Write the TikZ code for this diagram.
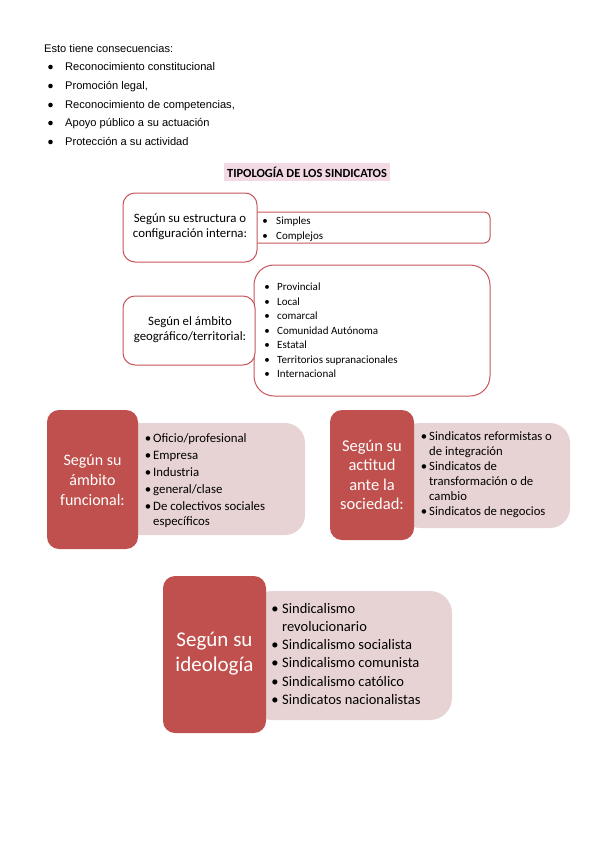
\documentclass[tikz,border=0pt]{standalone}
\usepackage{fontspec}
\setmainfont{Carlito}
\newfontfamily\arialf{Liberation Sans}
\definecolor{dred}{HTML}{C0504D}
\definecolor{lpink}{HTML}{E8D3D4}
\definecolor{hlpink}{HTML}{F2D9E4}
\definecolor{bord}{HTML}{C8555A}
\tikzset{
  body/.style={anchor=base west, inner sep=0pt, font=\arialf\fontsize{11.1}{13}\selectfont},
  dot/.style={circle, fill=black, inner sep=0pt, minimum size=4.6pt},
  lbox/.style={draw=bord, line width=1pt, fill=white, rounded corners=12pt},
  rbox/.style={draw=bord, line width=1pt, fill=white},
  ltxt/.style={align=center, font=\fontsize{12.8}{15}\selectfont, inner sep=0pt},
  itm/.style={anchor=base west, inner sep=0pt},
  bul/.style={anchor=base, inner sep=0pt},
  dbox/.style={fill=dred, rounded corners=12pt},
  pbox/.style={fill=lpink},
  wtxt/.style={align=center, text=white, inner sep=0pt},
}
\begin{document}
\begin{tikzpicture}[x=1pt,y=-1pt]
\useasboundingbox (0,0) rectangle (600,848);
% intro text
\node[body] (intro) at (44,53) {Esto tiene consecuencias:};
\foreach \y/\t [count=\i] in {71/{Reconocimiento constitucional},90/{Promoción legal,},109/{Reconocimiento de competencias,},127/{Apoyo público a su actuación},146/{Protección a su actividad}}{
  \node[dot] (d\i) at (50.5,\y-4) {};
  \node[body] (t\i) at (65,\y) {\t};
}
% title
\fill[hlpink] (224,163) rectangle (390,181);
\node[inner sep=0pt, font=\bfseries\fontsize{12.4}{14}\selectfont] (title) at (307,172.5) {TIPOLOGÍA DE LOS SINDICATOS};
% box 1
\draw[rbox, rounded corners=6pt] (250,212) rectangle (490,243);
\draw[lbox] (123,193) rectangle (257,262);
\node[ltxt] (b1) at (190,227) {Según su estructura o\\configuración interna:};
\begin{scope}[font=\fontsize{11}{13}\selectfont]
\foreach \y/\t [count=\i] in {224/{Simples},239.5/{Complejos}}{
  \node[bul] (s\i) at (265,\y) {\textbullet};
  \node[itm] (st\i) at (276,\y) {\t};
}
\end{scope}
% box 2
\draw[rbox, rounded corners=20pt] (254,265) rectangle (490,396);
\draw[lbox] (123,296) rectangle (255,365);
\node[ltxt] (b2) at (190,330) {Según el ámbito\\geográfico/territorial:};
\begin{scope}[font=\fontsize{11}{13}\selectfont]
\foreach \y/\t [count=\i] in {290.5/{Provincial},305/{Local},319.5/{comarcal},334/{Comunidad Autónoma},348.5/{Estatal},363/{Territorios supranacionales},377.5/{Internacional}}{
  \node[bul] (g\i) at (267,\y) {\textbullet};
  \node[itm] (gt\i) at (277,\y) {\t};
}
\end{scope}
% box 3
\fill[pbox, rounded corners=20pt] (120,423) rectangle (305,535);
\fill[dbox] (47,410) rectangle (138,549);
\node[wtxt, font=\fontsize{16}{20}\selectfont] (b3) at (92.5,480) {Según su\\ámbito\\funcional:};
\begin{scope}[font=\fontsize{12.8}{15}\selectfont]
\foreach \y/\t [count=\i] in {442.5/{Oficio/profesional},459.5/{Empresa},476.5/{Industria},493.5/{general/clase},510.5/{De colectivos sociales}}{
  \node[bul] (f\i) at (148,\y) {\textbullet};
  \node[itm] (ft\i) at (153,\y) {\t};
}
\node[itm] (ft6) at (153,525.5) {específicos};
\end{scope}
% box 4
\fill[pbox, rounded corners=20pt] (400,423) rectangle (570,528);
\fill[dbox] (330,410) rectangle (414,540);
\node[wtxt, font=\fontsize{16.5}{19.5}\selectfont] (b4) at (372,475) {Según su\\actitud\\ante la\\sociedad:};
\begin{scope}[font=\fontsize{12.7}{15}\selectfont]
\foreach \y/\t [count=\i] in {440.5/{Sindicatos reformistas o},470.5/{Sindicatos de},515.5/{Sindicatos de negocios}}{
  \node[bul] (a\i) at (424,\y) {\textbullet};
  \node[itm] (at\i) at (429,\y) {\t};
}
\node[itm] (at4) at (429,455) {de integración};
\node[itm] (at5) at (429,485) {transformación o de};
\node[itm] (at6) at (429,500) {cambio};
\end{scope}
% box 5
\fill[pbox, rounded corners=22pt] (250,591) rectangle (452,720);
\fill[dbox] (163,576) rectangle (266,733);
\node[wtxt, font=\fontsize{21}{25}\selectfont] (b5) at (214.5,654) {Según su\\ideología};
\begin{scope}[font=\fontsize{14.5}{17}\selectfont]
\foreach \y/\t [count=\i] in {613/{Sindicalismo},649/{Sindicalismo socialista},667.5/{Sindicalismo comunista},686/{Sindicalismo católico},704.5/{Sindicatos nacionalistas}}{
  \node[bul] (i\i) at (275,\y) {\textbullet};
  \node[itm] (it\i) at (282,\y) {\t};
}
\node[itm] (it6) at (282,631) {revolucionario};
\end{scope}
\end{tikzpicture}
\end{document}
